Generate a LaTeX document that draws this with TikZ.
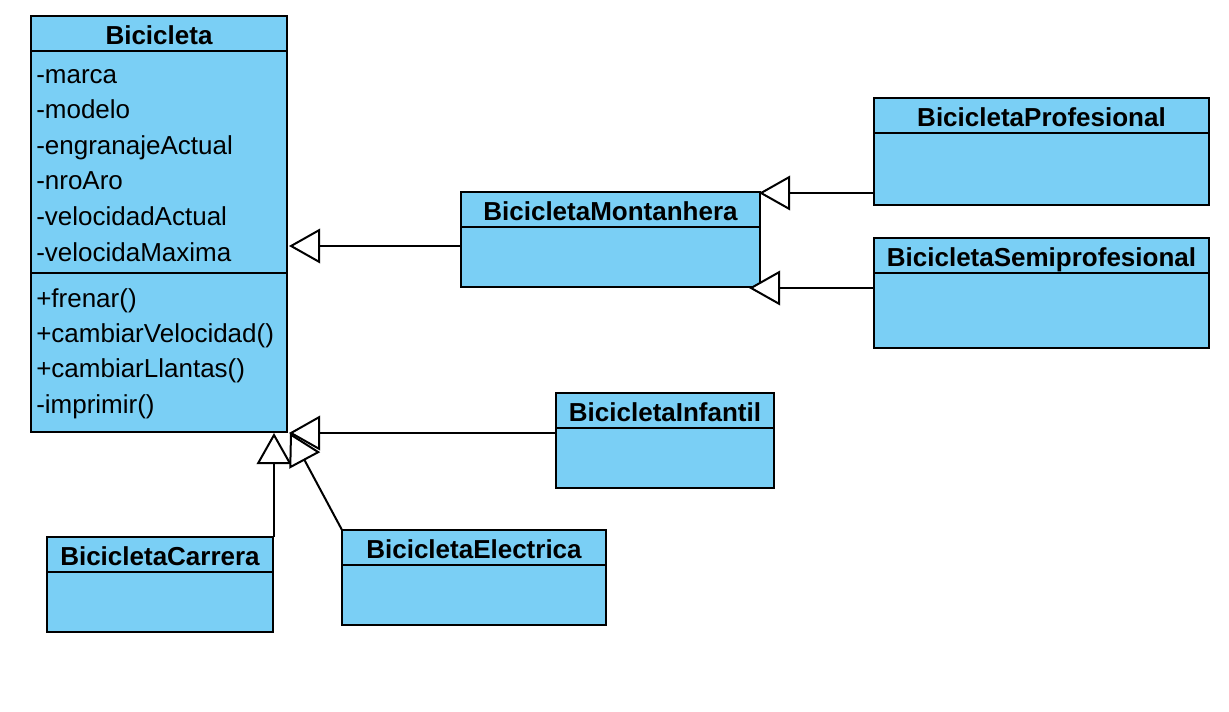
\documentclass[tikz,border=0pt]{standalone}
\usepackage{fontspec}
\setmainfont{Liberation Sans}
\usetikzlibrary{arrows.meta,calc}
\definecolor{umlblue}{RGB}{122,207,245}
\tikzset{
  cls/.style={draw=black, line width=1.5pt, fill=umlblue, rectangle, anchor=north west, inner sep=0pt, outer sep=0pt},
  clstitle/.style={font=\fontsize{19.5}{21}\selectfont\bfseries, anchor=base, inner sep=0pt},
  attr/.style={font=\fontsize{19.5}{21}\selectfont, anchor=base west, inner sep=0pt},
  inh/.style={line width=1.5pt, -{Triangle[length=23.4pt,width=26pt,fill=white]}},
}
\newcommand\umlclass[7]{%
  \node[cls, minimum width={(#4-#2)*0.75pt}, minimum height={(#5-#3)*0.75pt}] (#1) at (#2,#3) {};
  \draw[line width=1.5pt] (#2,#6) -- (#4,#6);
  \node[clstitle] (#1-t) at ({(#2+#4)/2},{#6-6}) {#7};
}
\begin{document}
\begin{tikzpicture}[x=0.75pt,y=-0.75pt]
\useasboundingbox (0,0) rectangle (1229,712);
\fill[white] (0,0) rectangle (1229,712);
% classes
\umlclass{bic}{31}{16}{287}{432}{51}{Bicicleta}
\draw[line width=1.5pt] (31,273) -- (287,273);
\umlclass{mont}{461}{192}{760}{287}{227}{BicicletaMontanhera}
\umlclass{prof}{874}{98}{1209}{205}{133}{BicicletaProfesional}
\umlclass{semi}{874}{238}{1209}{348}{273}{BicicletaSemiprofesional}
\umlclass{inf}{556}{393}{774}{488}{428}{BicicletaInfantil}
\umlclass{carr}{47}{537}{273}{632}{572}{BicicletaCarrera}
\umlclass{elec}{342}{530}{606}{625}{565}{BicicletaElectrica}
% attributes and methods
\node[attr] (a1) at (36,84) {-marca};
\node[attr] (a2) at (36,119) {-modelo};
\node[attr] (a3) at (36,155) {-engranajeActual};
\node[attr] (a4) at (36,190) {-nroAro};
\node[attr] (a5) at (36,226) {-velocidadActual};
\node[attr] (a6) at (36,262) {-velocidaMaxima};
\node[attr] (m1) at (36,308) {+frenar()};
\node[attr] (m2) at (36,343) {+cambiarVelocidad()};
\node[attr] (m3) at (36,378) {+cambiarLlantas()};
\node[attr] (m4) at (36,414) {-imprimir()};
% generalizations
\draw[inh] ($(mont.north west)+(0,54)$) -- ($(bic.north east)+(2,230)$);
\draw[inh] ($(prof.north west)+(0,95)$) -- ($(mont.north east)+(-1,1)$);
\draw[inh] ($(semi.north west)+(0,50)$) -- ($(mont.south east)+(-11,1)$);
\draw[inh] ($(inf.north west)+(0,40)$) -- ($(bic.south east)+(2,1)$);
\draw[inh] ($(carr.north east)+(1,0)$) -- ($(bic.south east)+(-13,1)$);
\draw[inh] (elec.north west) -- ($(bic.south east)+(3,1)$);
\end{tikzpicture}
\end{document}
